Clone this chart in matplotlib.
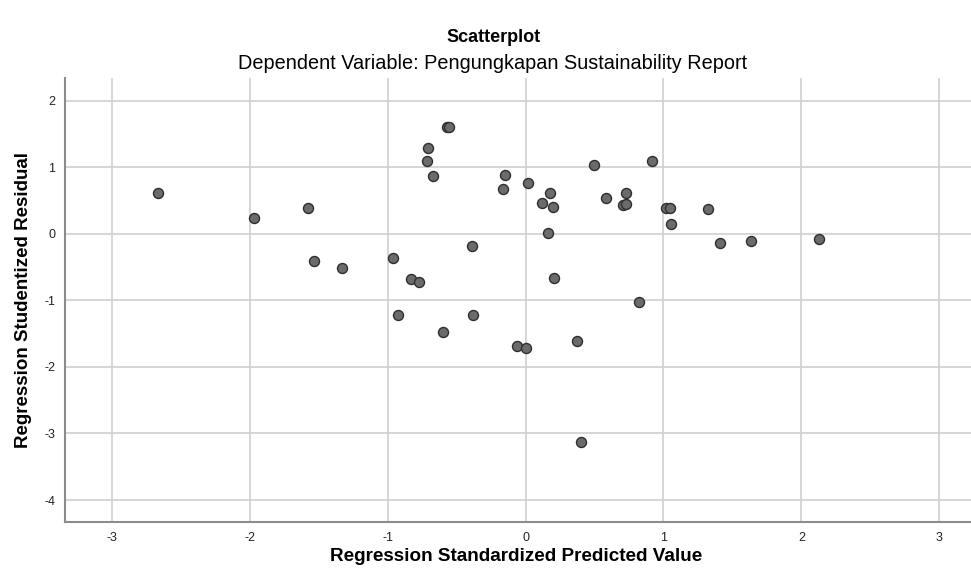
import numpy as np
import matplotlib
matplotlib.use("Agg")
import matplotlib.pyplot as plt

plt.rcParams['font.family'] = ['Liberation Sans', 'DejaVu Sans']
plt.rcParams['axes.unicode_minus'] = False

# titik residual (x = predicted, y = studentized residual)
pred_std = [-2.664, -1.970, -1.576, -1.535, -1.330, -0.961, -0.833, -0.773, -0.925,
            -0.708, -0.713, -0.672, -0.572, -0.555, -0.391, -0.381, -0.602, -0.059,
            0.004, -0.149, -0.160, 0.020, 0.177, 0.117, 0.196, 0.162, 0.204, 0.494,
            0.583, 0.731, 0.705, 0.725, 0.915, 0.826, 1.015, 1.045, 1.055, 1.323,
            1.413, 1.632, 2.130, 0.373, 0.400]
resid_stud = [0.616, 0.230, 0.380, -0.416, -0.520, -0.365, -0.680, -0.725, -1.227,
              1.296, 1.100, 0.866, 1.607, 1.600, -0.180, -1.227, -1.470, -1.680,
              -1.717, 0.876, 0.670, 0.766, 0.616, 0.455, 0.395, 0.010, -0.665, 1.030,
              0.535, 0.610, 0.430, 0.440, 1.100, -1.026, 0.386, 0.386, 0.145, 0.365,
              -0.140, -0.105, -0.085, -1.617, -3.130]
xticks = [-3, -2, -1, 0, 1, 2, 3]
yticks = [2, 1, 0, -1, -2, -3, -4]

fig = plt.figure(figsize=(9.71, 5.80), dpi=100)
ax = fig.add_axes([0.0669, 0.10, 0.9331, 0.7655])

ax.scatter(pred_std, resid_stud, s=52, c='#6b6b6b', edgecolors='#2e2e2e',
           linewidths=1.0, zorder=3)

ax.set_xlim(-3.34, 3.23)
ax.set_ylim(-4.33, 2.34)
ax.set_xticks(xticks)
ax.set_yticks(yticks)
ax.grid(True, color='#cfcfcf', linewidth=1.2, zorder=0)
ax.set_axisbelow(True)

for s in ['top', 'right']:
    ax.spines[s].set_visible(False)
for s in ['left', 'bottom']:
    ax.spines[s].set_color('#8c8c8c')
    ax.spines[s].set_linewidth(1.5)
ax.tick_params(length=0, labelsize=9, colors='#222222', pad=7)

ax.set_xlabel('Regression Standardized Predicted Value', fontsize=13.6,
              fontweight='bold')
ax.xaxis.set_label_coords(0.498, -0.077)
ax.xaxis.label.set_va('center')
ax.set_ylabel('Regression Studentized Residual', fontsize=13.5,
              fontweight='bold')
ax.yaxis.set_label_coords(-0.046, 0.5)
ax.yaxis.label.set_va('center')

fig.text(0.508, 0.936, 'Scatterplot', ha='center', va='center',
         fontsize=13, fontweight='bold')
fig.text(0.507, 0.891, 'Dependent Variable: Pengungkapan Sustainability Report',
         ha='center', va='center', fontsize=14.3)

fig.savefig('out.png', dpi=100)
